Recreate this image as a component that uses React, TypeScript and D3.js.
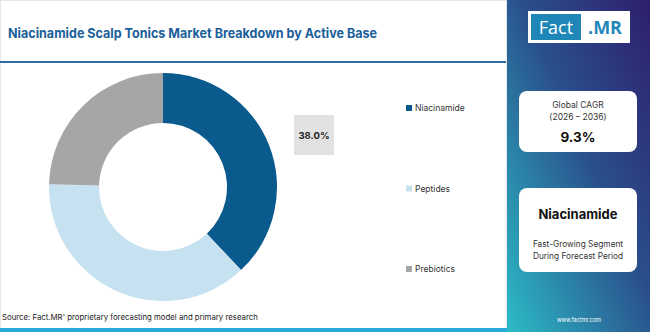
import { useEffect } from "react";
import * as d3 from "d3";

const categories = ["Niacinamide", "Peptides", "Prebiotics"];
const shares = [38.0, 37.4, 24.6];
const colors = ["#0b5a8e", "#c6e2f1", "#a6a6a6"];
const cagrYears = "(2026 \u2013 2036)";
const cagrValue = "9.3%";
const topSegment = "Niacinamide";

const W = 650;
const H = 332;
const FONT = "Inter, 'Open Sans', sans-serif";

const App = () => {
  useEffect(() => {
    document.body.style.margin = "0";
  }, []);

  const cx = 163;
  const cy = 187;
  const outerR = 114;
  const innerR = 64;

  const pie = d3
    .pie<number>()
    .sort(null)
    .value((d) => d);
  const arcs = pie(shares);
  const arc = d3
    .arc<d3.PieArcDatum<number>>()
    .innerRadius(innerR)
    .outerRadius(outerR);

  const legendY = d3
    .scalePoint<string>()
    .domain(categories)
    .range([108, 269]);

  return (
    <svg width={W} height={H} style={{ display: "block" }} fontFamily={FONT}>
      <defs>
        <linearGradient id="side" x1="1" y1="0" x2="0" y2="1">
          <stop offset="0%" stopColor="#2e1f6e" />
          <stop offset="45%" stopColor="#2a4f8c" />
          <stop offset="100%" stopColor="#2cbcc6" />
        </linearGradient>
      </defs>
      <rect x={0} y={0} width={W} height={H} fill="#fff" />
      <rect x={0.5} y={0.5} width={506} height={H - 1} fill="none" stroke="#e6e6e6" />

      {/* title */}
      <text x={8} y={38} fontSize={13.2} fontWeight={700} fill="#1b5f9a" textLength={369} lengthAdjust="spacingAndGlyphs">
        Niacinamide Scalp Tonics Market Breakdown by Active Base
      </text>
      <rect x={0} y={61} width={506} height={2} fill="#2a6da6" />

      {/* donut */}
      <g transform={`translate(${cx},${cy})`}>
        {arcs.map((a, i) => (
          <path key={categories[i]} d={arc(a) || ""} fill={colors[i]} />
        ))}
      </g>

      {/* value label */}
      <rect x={294} y={115} width={40} height={40} fill="#e2e2e2" />
      <text x={314} y={139} textAnchor="middle" fontSize={9.5} fontWeight={700} fill="#222">
        {shares[0].toFixed(1)}%
      </text>

      {/* legend */}
      {categories.map((c, i) => (
        <g key={c} transform={`translate(406,${legendY(c)})`}>
          <rect x={0} y={-3} width={6} height={6} fill={colors[i]} />
          <text x={9} y={3} fontSize={8.5} fill="#333">
            {c}
          </text>
        </g>
      ))}

      {/* source */}
      <text x={2} y={320} fontSize={7.8} fill="#222">
        Source: Fact.MR' proprietary forecasting model and primary research
      </text>
      <rect x={0} y={328} width={507} height={4} fill="#2aa9dc" />

      {/* side panel */}
      <rect x={507} y={0} width={W - 507} height={H} fill="url(#side)" />
      <rect x={528} y={11} width={102} height={32} fill="#fff" />
      <rect x={531} y={14} width={50} height={26} fill="#1f86b8" />
      <text x={556} y={34} textAnchor="middle" fontSize={18} fill="#fff" fontFamily="'Open Sans', sans-serif">
        Fact
      </text>
      <text x={605} y={34} textAnchor="middle" fontSize={18} fontWeight={700} fill="#1f86b8" fontFamily="'Open Sans', sans-serif">
        .MR
      </text>

      <rect x={519} y={91} width={118} height={61} rx={8} fill="#fff" />
      <text x={578} y={108} textAnchor="middle" fontSize={8.5} fill="#333">
        Global CAGR
      </text>
      <text x={578} y={120} textAnchor="middle" fontSize={8.5} fill="#333">
        {cagrYears}
      </text>
      <text x={578} y={142} textAnchor="middle" fontSize={13.5} fontWeight={700} fill="#111">
        {cagrValue}
      </text>

      <rect x={519} y={188} width={118} height={84} rx={8} fill="#fff" />
      <text x={578} y={219} textAnchor="middle" fontSize={13} fontWeight={700} fill="#111">
        {topSegment}
      </text>
      <text x={578} y={247} textAnchor="middle" fontSize={8.3} fill="#333">
        Fast-Growing Segment
      </text>
      <text x={578} y={259} textAnchor="middle" fontSize={8.3} fill="#333">
        During Forecast Period
      </text>

      <text x={579} y={322} textAnchor="middle" fontSize={5.5} fill="#fff">
        www.factmr.com
      </text>
    </svg>
  );
};

export default App;
